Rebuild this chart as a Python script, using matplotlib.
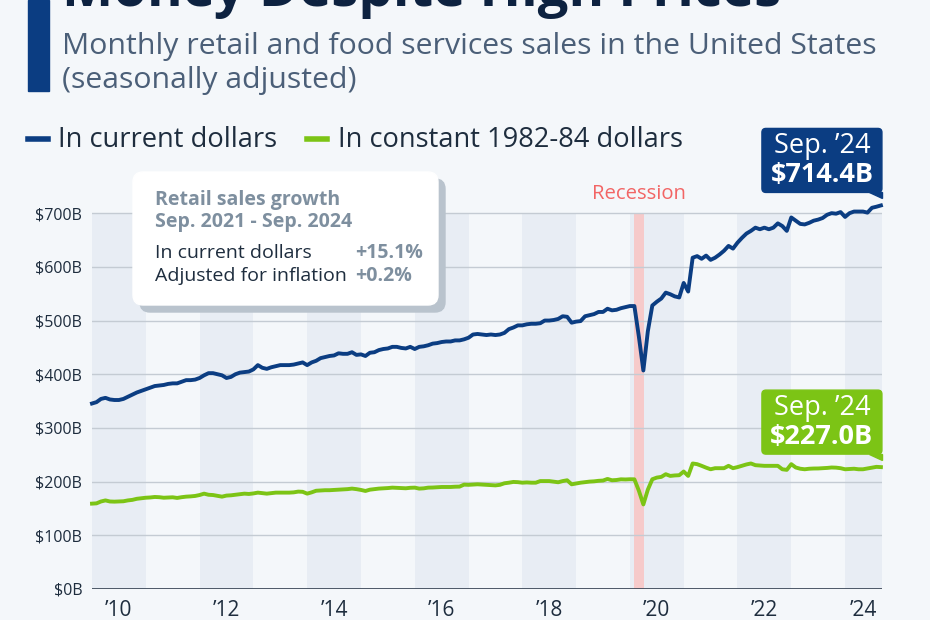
import matplotlib
matplotlib.use("Agg")
import matplotlib.pyplot as plt
import matplotlib.transforms as mtransforms
from matplotlib.patches import FancyBboxPatch, Polygon, Rectangle
from matplotlib.lines import Line2D
import numpy as np

# monthly retail and food services sales, Jan 2010 - Sep 2024 (billion $)
current_dollars = [
    345.5, 348, 354, 356, 353, 352, 352, 354, 358, 362, 366, 369,      # 2010
    372, 375, 378, 379, 380, 382, 383, 383, 386, 389, 389, 390,        # 2011
    393, 398, 402, 402, 400, 398, 393, 395, 400, 403, 404, 405,        # 2012
    409, 417, 412, 410, 413, 415, 417, 417, 417, 418, 420, 422,        # 2013
    417, 422, 425, 430, 432, 434, 435, 439, 438, 438, 441, 436,        # 2014
    437, 434, 440, 441, 445, 447, 448, 451, 451, 449, 448, 451,        # 2015
    447, 451, 452, 454, 457, 458, 460, 461, 461, 463, 463, 465,        # 2016
    468, 474, 475, 474, 473, 474, 473, 474, 477, 484, 487, 491,        # 2017
    491, 493, 494, 494, 495, 500, 500, 501, 503, 508, 507, 496,        # 2018
    498, 499, 508, 510, 512, 516, 516, 522, 519, 520, 523, 525,        # 2019
    527, 527, 470, 407, 480, 528, 535, 541, 552, 549, 545, 543,        # 2020
    570, 554, 617, 620, 615, 621, 613, 617, 623, 630, 639, 634,        # 2021
    645, 654, 662, 667, 673, 670, 673, 670, 673, 681, 676, 667,        # 2022
    692, 686, 680, 679, 682, 686, 688, 691, 697, 700, 699, 702,        # 2023
    693, 700, 703, 703, 703, 701, 710, 712, 714.4,                     # 2024
]
# same series in constant 1982-84 dollars (billion $)
constant_dollars = [
    159, 159.5, 163, 165, 163, 162.7, 163, 163.4, 165, 166, 168, 169,
    170, 170.5, 171.4, 171, 170, 170.5, 170.8, 169.6, 171, 172, 172.5, 173.3,
    175, 177.6, 175.5, 175, 173.5, 172, 174, 174.5, 175.5, 176.4, 177.6, 177,
    178, 179.5, 178.5, 177.6, 178.5, 179.5, 179.5, 179.5, 179.5, 180, 181.4, 181,
    177.6, 180, 183, 183.5, 184, 184, 184.5, 185, 185.7, 186, 187, 186,
    184.5, 182.6, 185, 186, 187, 187.5, 188, 188.8, 188.5, 188, 187.6, 188.5,
    188.8, 187, 187.5, 188.8, 189, 189.5, 190, 190, 190, 190.5, 190.7, 194.4,
    194, 194.5, 195, 194.5, 193.8, 193.5, 193, 194, 196.9, 198, 199.4, 199,
    198, 198.5, 198, 198, 201, 201, 201, 200, 198.8, 201, 202.5, 195,
    196.5, 198, 199, 200, 200.5, 201.5, 202, 205, 202.5, 203, 204.3, 204,
    204.4, 204.3, 183, 157.5, 185, 204.4, 207.5, 208.8, 213.8, 210.6, 211.5, 211.9,
    218.8, 210.6, 233.8, 232.5, 229.4, 226, 223, 225, 225, 225, 229.4, 225,
    227, 229.4, 232, 233.8, 230.6, 230, 229.4, 229.4, 229.4, 229.4, 223, 221.9,
    232.5, 226.3, 224, 223, 224, 224.4, 224.5, 225, 225.5, 226.3, 226, 225,
    223, 223.5, 224, 223, 223, 224.4, 226, 227.5, 227.0,
]

first_year = 2010
shaded_years = [2010, 2012, 2014, 2016, 2018, 2020, 2022, 2024]
year_labels = ["\u201910", "\u201912", "\u201914", "\u201916", "\u201918", "\u201920", "\u201922", "\u201924"]
yticks = [0, 100, 200, 300, 400, 500, 600, 700]
ytick_labels = ["$0B", "$100B", "$200B", "$300B", "$400B", "$500B", "$600B", "$700B"]
recession = (2020 + 1 / 12, 2020 + 3 / 12)   # Feb - Apr 2020
last_label = "Sep. \u201924"
current_last = "$714.4B"
constant_last = "$227.0B"

BG = "#f4f7fa"
BAND = "#e8edf4"
NAVY = "#0b3d82"
GREEN = "#7cc415"
TEXT = "#1e2d3e"
GREY = "#7e8f9f"
GRID = "#c4cbd3"

plt.rcParams["font.family"] = ["Open Sans", "DejaVu Sans"]

W, H = 930, 620
fig = plt.figure(figsize=(9.3, 6.2), dpi=100)
fig.patch.set_facecolor(BG)


def fx(x):
    return x / W


def fy(y):
    return 1 - y / H


# header
fig.add_artist(Rectangle((fx(28), fy(91)), fx(21), 91 / H, color=NAVY, transform=fig.transFigure))
fig.text(fx(62), fy(6), "Money Despite High Prices", fontsize=39.2, fontweight="bold",
         color="#0d2240", va="baseline")
fig.text(fx(62), fy(54), "Monthly retail and food services sales in the United States",
         fontsize=21.8, color="#4b5f78", va="baseline")
fig.text(fx(62), fy(88), "(seasonally adjusted)", fontsize=21.8, color="#4b5f78", va="baseline")

# legend
fig.add_artist(Line2D([fx(28), fx(48)], [fy(139), fy(139)], color=NAVY, lw=4, transform=fig.transFigure))
fig.text(fx(58), fy(140), "In current dollars", fontsize=19.6, color=TEXT, va="center")
fig.add_artist(Line2D([fx(307), fx(327)], [fy(139), fy(139)], color=GREEN, lw=4, transform=fig.transFigure))
fig.text(fx(338), fy(140), "In constant 1982-84 dollars", fontsize=19.6, color=TEXT, va="center")

# main axes
ax = fig.add_axes([fx(92), fy(589), 790 / W, 400 / H])
ax.set_facecolor(BG)
x = first_year + np.arange(len(current_dollars)) / 12.0
ax.set_xlim(first_year, x[-1] + 0.02)
ax.set_ylim(0, 745)

for yr in shaded_years:
    ax.add_patch(Rectangle((yr, 0), 1, 700, color=BAND, lw=0, zorder=0))
ax.add_patch(Rectangle((recession[0] - 0.01, 0), recession[1] - recession[0] + 0.02, 700,
                       color="#f6caca", lw=0, zorder=1))
ax.text((recession[0] + recession[1]) / 2, 0.9875, "Recession", color="#f26565", fontsize=14.6,
        ha="center", va="center", transform=ax.get_xaxis_transform())

for t in yticks[1:]:
    ax.axhline(t, color=GRID, lw=1, zorder=2)
ax.axhline(0, color="#3e4a5a", lw=2, zorder=2)

ax.plot(x, current_dollars, color=NAVY, lw=2.8, zorder=4, clip_on=False, solid_joinstyle="round")
ax.plot(x, constant_dollars, color=GREEN, lw=2.8, zorder=4, clip_on=False, solid_joinstyle="round")

for s in ax.spines.values():
    s.set_visible(False)
ax.set_yticks(yticks)
ax.set_yticklabels(ytick_labels, fontsize=11.5, color=TEXT)
xlim_right = ax.get_xlim()[1]
label_pos = [min(yr + 0.5, (yr + xlim_right) / 2) for yr in shaded_years]
ax.set_xticks(label_pos)
ax.set_xticklabels(year_labels, fontsize=15, color=TEXT)
ax.tick_params(length=0)
ax.tick_params(axis="y", pad=7)
ax.tick_params(axis="x", pad=8)

# end-of-series callouts
def callout(yval, color, value):
    tr = fig.dpi_scale_trans + mtransforms.ScaledTranslation(x[-1], yval, ax.transData)
    box = FancyBboxPatch((-1.19, 0.13), 1.20, 0.64, boxstyle="round,pad=0,rounding_size=0.04",
                         color=color, transform=tr, clip_on=False, zorder=6)
    fig.add_artist(box)
    tail = Polygon([(-0.12, 0.135), (0.01, 0.135), (0.01, 0.07)], closed=True, color=color,
                   transform=tr, clip_on=False, zorder=6)
    fig.add_artist(tail)
    fig.text(-0.59, 0.59, last_label, transform=tr, color="white", fontsize=19.5,
             ha="center", va="center", zorder=7)
    fig.text(-0.59, 0.30, value, transform=tr, color="white", fontsize=19.5, fontweight="bold",
             ha="center", va="center", zorder=7)


callout(current_dollars[-1], NAVY, current_last)
callout(constant_dollars[-1], GREEN, constant_last)

# growth info box
inch = fig.dpi_scale_trans
fig.add_artist(FancyBboxPatch((1.40, (H - 312) / 100), 3.05, 1.33,
                              boxstyle="round,pad=0,rounding_size=0.1", color="#b9c3cd",
                              transform=inch, zorder=8))
fig.add_artist(FancyBboxPatch((1.33, (H - 305) / 100), 3.05, 1.33,
                              boxstyle="round,pad=0,rounding_size=0.1", color="white",
                              transform=inch, zorder=9))
fig.text(fx(155), fy(200), "Retail sales growth", fontsize=14, fontweight="bold", color=GREY,
         va="center", zorder=10)
fig.text(fx(155), fy(222), "Sep. 2021 - Sep. 2024", fontsize=14, fontweight="bold", color=GREY,
         va="center", zorder=10)
fig.text(fx(155), fy(253), "In current dollars", fontsize=14, color=TEXT, va="center", zorder=10)
fig.text(fx(155), fy(276), "Adjusted for inflation", fontsize=14, color=TEXT, va="center", zorder=10)
fig.text(fx(355), fy(253), "+15.1%", fontsize=14, fontweight="bold", color=GREY, va="center", zorder=10)
fig.text(fx(355), fy(276), "+0.2%", fontsize=14, fontweight="bold", color=GREY, va="center", zorder=10)

fig.savefig("out.png", dpi=100, facecolor=BG)
